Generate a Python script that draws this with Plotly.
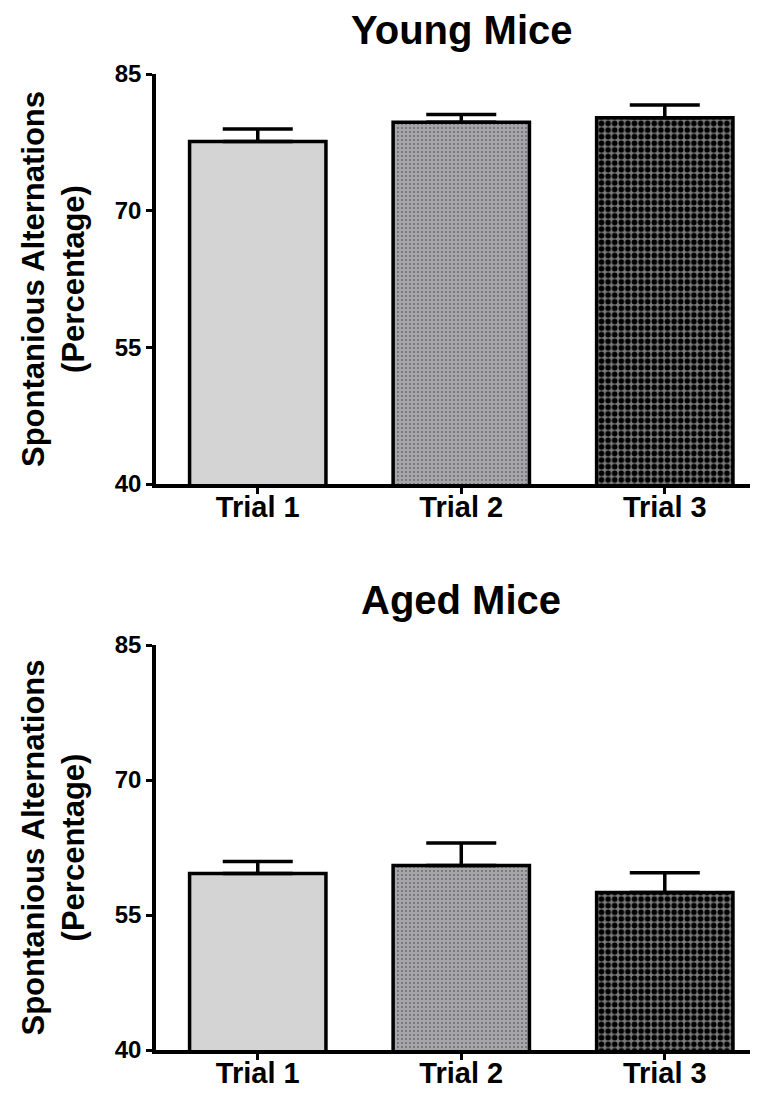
import plotly.graph_objects as go

categories = ["Trial 1", "Trial 2", "Trial 3"]
young_values = [77.6, 79.7, 80.2]
young_err = [1.35, 0.85, 1.4]
aged_values = [59.6, 60.5, 57.5]
aged_err = [1.35, 2.5, 2.2]
y_ticks = [40, 55, 70, 85]
titles = ["Young Mice", "Aged Mice"]

FONT = "Liberation Sans, Arial, sans-serif"
bg_colors = ["#d4d4d4", "#a6a6aa", "#7a7a7a"]
fg_colors = ["#d4d4d4", "#68686a", "#000000"]
shapes = ["", ".", "."]
sizes = [6, 4, 6.6]
solid = [0.2, 0.18, 0.55]

# page has an 8px body margin; figure sized to fit the 758x1094 window
OFF = 8
W, H = 758 - OFF, 1094 - OFF

fig = go.Figure()

def add_panel(values, err, xa, ya):
    for i, c in enumerate(categories):
        fig.add_trace(go.Bar(
            x=[c], y=[values[i]],
            width=0.67,
            marker=dict(
                color=bg_colors[i],
                line=dict(color="black", width=3.5),
                pattern=dict(shape=shapes[i], fgcolor=fg_colors[i], bgcolor=bg_colors[i],
                             size=sizes[i], solidity=solid[i], fillmode="replace"),
            ),
            error_y=dict(type="data", symmetric=False, array=[err[i]], arrayminus=[0],
                         color="black", thickness=3.5, width=35),
            xaxis=xa, yaxis=ya, showlegend=False,
        ))

add_panel(young_values, young_err, "x", "y")
add_panel(aged_values, aged_err, "x2", "y2")

def dom(top_px, bot_px):
    return [1 - (bot_px - OFF) / H, 1 - (top_px - OFF) / H]

xaxis_common = dict(
    range=[-0.5, 2.458], showline=True, linecolor="black", linewidth=3.5,
    ticks="outside", ticklen=6, tickwidth=3, tickcolor="black",
    tickfont=dict(family=FONT, size=29, color="black", weight="bold"),
    ticklabelstandoff=-12,
    showgrid=False, zeroline=False, automargin=False,
    categoryorder="array", categoryarray=categories,
)
yaxis_common = dict(
    range=[40, 85], tickvals=y_ticks, showline=True, linecolor="black", linewidth=3.5,
    ticks="outside", ticklen=6, tickwidth=3, tickcolor="black",
    tickfont=dict(family=FONT, size=24, color="black", weight="bold"),
    showgrid=False, zeroline=False, automargin=False,
    title=dict(text="Spontanious Alternations<br>(Percentage)",
               font=dict(family=FONT, size=31, color="black", weight="bold"), standoff=22),
)

def title_ann(text, xref, page_y):
    return dict(text=text, x=1.0, xref=xref, y=1 - (page_y - OFF) / H, yref="paper",
                showarrow=False, font=dict(family=FONT, size=40, color="black", weight="bold"),
                xanchor="center", yanchor="middle")

fig.update_layout(
    width=W, height=H,
    margin=dict(l=156 - OFF, r=0, t=0, b=0, pad=0),
    plot_bgcolor="white", paper_bgcolor="white",
    xaxis=dict(domain=[0, 1], anchor="y", **xaxis_common),
    yaxis=dict(domain=dom(74, 484), anchor="x", **yaxis_common),
    xaxis2=dict(domain=[0, 1], anchor="y2", **xaxis_common),
    yaxis2=dict(domain=dom(645, 1050), anchor="x2", **yaxis_common),
    annotations=[title_ann(titles[0], "x", 30), title_ann(titles[1], "x2", 600)],
)

fig.write_html("out.html")
